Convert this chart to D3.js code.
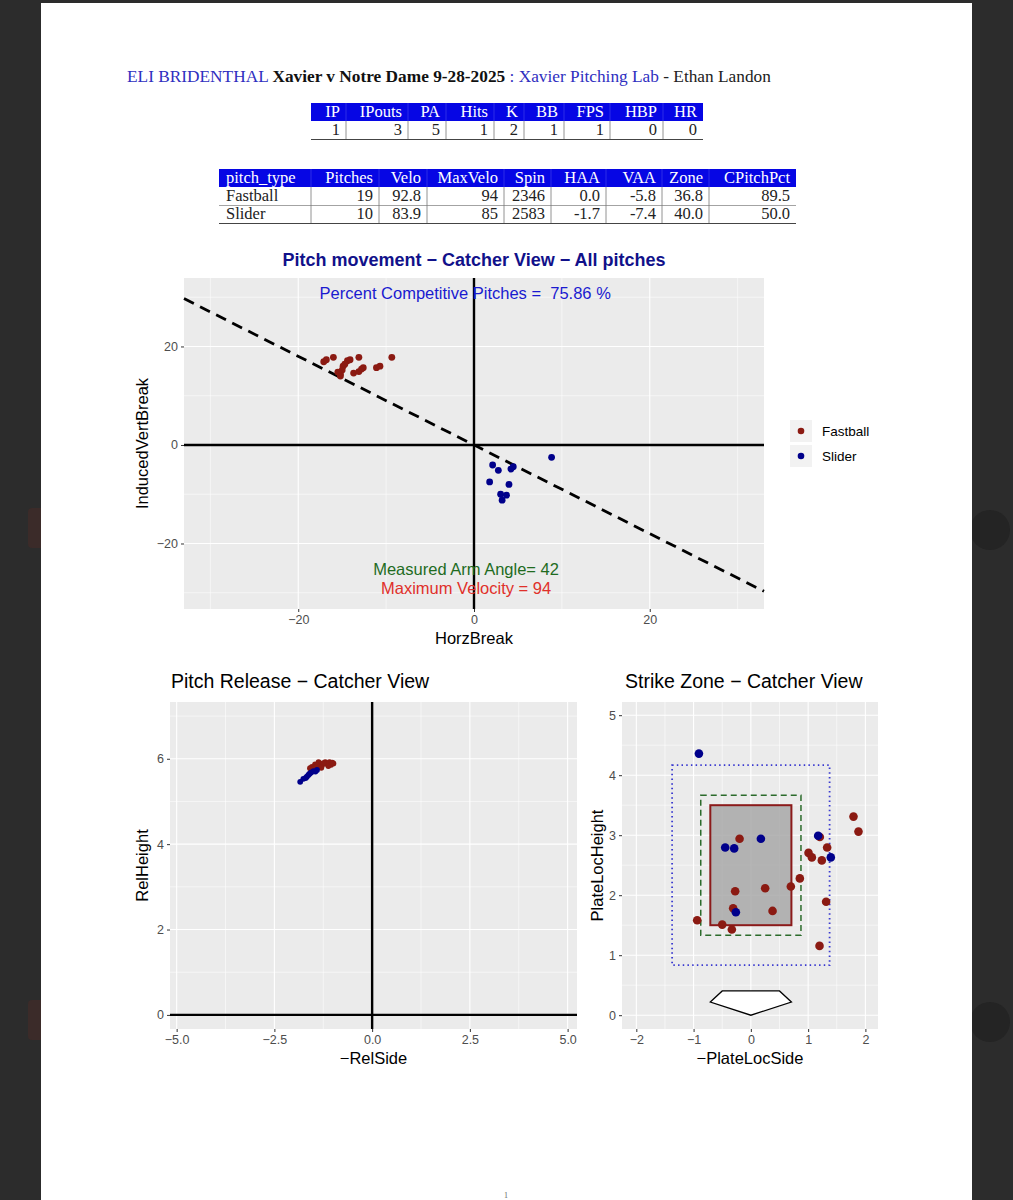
<!DOCTYPE html>
<html><head><meta charset="utf-8">
<script src="https://cdn.jsdelivr.net/npm/d3@7"></script>
<style>body{margin:0;background:#2c2c2c;overflow:hidden} svg{display:block}</style>
</head><body>
<svg id="c" width="1013" height="1200"></svg>
<script>
// ---------- DATA ----------
const statCols = ["IP","IPouts","PA","Hits","K","BB","FPS","HBP","HR"];
const statVals = ["1","3","5","1","2","1","1","0","0"];
const pitchCols = ["pitch_type","Pitches","Velo","MaxVelo","Spin","HAA","VAA","Zone","CPitchPct"];
const fastballRow = ["Fastball","19","92.8","94","2346","0.0","-5.8","36.8","89.5"];
const sliderRow = ["Slider","10","83.9","85","2583","-1.7","-7.4","40.0","50.0"];
const series = ["Fastball","Slider"];

const competitivePct = "75.86";
const armAngle = 42;
const maxVelo = 94;

// Pitch movement (HorzBreak, InducedVertBreak)
const fbMovX = [-17.1,-16.8,-16.0,-15.0,-15.2,-14.9,-14.4,-14.1,-13.1,-13.7,-13.1,-12.6,-12.8,-11.1,-10.7,-9.35,-15.2,-15.5,-14.7];
const fbMovY = [16.9,17.3,17.8,15.2,14.4,16.0,17.1,17.3,17.8,14.6,14.9,15.7,15.4,15.7,16.0,17.8,14.0,14.8,16.4];
const slMovX = [8.83,2.12,2.77,4.2,4.47,1.78,3.98,3.03,3.7,3.2];
const slMovY = [-2.5,-4.06,-5.14,-4.9,-4.4,-7.5,-8.0,-10.0,-10.2,-11.2];

// Release (-RelSide, RelHeight)
const fbRelX = [-1.46,-1.37,-1.20,-1.09,-0.99,-1.54,-1.59,-1.48,-1.33,-1.28,-1.15,-1.05,-1.40,-1.25,-1.52,-1.12,-1.30,-1.43,-1.02];
const fbRelY = [5.87,5.92,5.92,5.92,5.89,5.81,5.78,5.78,5.83,5.85,5.88,5.86,5.84,5.90,5.75,5.83,5.79,5.80,5.91];
const slRelX = [-1.84,-1.76,-1.67,-1.63,-1.56,-1.50,-1.41,-1.60,-1.70,-1.45];
const slRelY = [5.46,5.53,5.58,5.62,5.68,5.71,5.74,5.65,5.55,5.70];

// Plate location (-PlateLocSide, PlateLocHeight)
const fbLocX = [-0.197,1.204,1.792,1.879,1.332,1.007,1.065,1.239,0.855,0.698,0.25,-0.274,1.314,-0.309,0.379,-0.937,-0.5,-0.332,1.199];
const fbLocY = [2.94,2.97,3.31,3.06,2.795,2.705,2.63,2.58,2.28,2.145,2.117,2.067,1.89,1.783,1.738,1.583,1.51,1.428,1.155];
const slLocX = [-0.907,-0.448,-0.291,0.175,1.175,1.396,-0.262];
const slLocY = [4.36,2.795,2.78,2.94,2.99,2.63,1.717];

// Strike zone geometry [xmin,xmax,ymin,ymax]
const zoneBox = [-0.708,0.708,1.5,3.5];
const zoneInner = [-0.875,0.875,1.333,3.667];
const zoneOuter = [-1.375,1.375,0.833,4.167];
const plateX = [-0.708,-0.5,0.5,0.708,0];
const plateY = [0.22,0.405,0.405,0.22,0];

// Tick values
const movTicks = [-20,0,20];
const movMinor = [-30,-10,10,30];
const relXTicks = [-5,-2.5,0,2.5,5];
const relXMinor = [-3.75,-1.25,1.25,3.75];
const relYTicks = [0,2,4,6];
const relYMinor = [1,3,5,7];
const locXTicks = [-2,-1,0,1,2];
const locXMinor = [-1.5,-0.5,0.5,1.5];
const locYTicks = [0,1,2,3,4,5];
const locYMinor = [0.5,1.5,2.5,3.5,4.5];

// ---------- STYLE ----------
const RED = "#8B1A12", BLUE = "#00008B";
const SANS = "'Liberation Sans', Arial, sans-serif";
const SERIF = "'Liberation Serif', 'Times New Roman', serif";

const svg = d3.select("#c");
// page
svg.append("rect").attr("x",28).attr("y",508).attr("width",20).attr("height",40).attr("rx",4).attr("fill","#3b2b29");
svg.append("rect").attr("x",28).attr("y",1000).attr("width",20).attr("height",40).attr("rx",4).attr("fill","#3b2b29");
svg.append("circle").attr("cx",990).attr("cy",530).attr("r",20).attr("fill","#242424");
svg.append("circle").attr("cx",990).attr("cy",1022).attr("r",20).attr("fill","#242424");
svg.append("rect").attr("x",41).attr("y",3).attr("width",931).attr("height",1200).attr("fill","#fff");
svg.append("text").attr("x",506).attr("y",1198).attr("text-anchor","middle").attr("font-family",SERIF).attr("font-size",8).attr("fill","#666").text("1");

// ---------- HEADER ----------
const hdr = svg.append("text").attr("x",127).attr("y",82).attr("font-family",SERIF).attr("font-size",16);
hdr.append("tspan").attr("fill","#2f2fbf").text("ELI BRIDENTHAL ");
hdr.append("tspan").attr("fill","#111").attr("font-weight","bold").text("Xavier v Notre Dame 9-28-2025");
hdr.append("tspan").attr("fill","#2f2fbf").text(" : Xavier Pitching Lab");
hdr.append("tspan").attr("fill","#222").text(" - Ethan Landon");
const hl = hdr.node().getComputedTextLength();
hdr.attr("font-size", 16*644/hl);

// ---------- TABLES ----------
function drawTable(cols, rows, bounds, top, rowH, leftAlignFirst) {
  const g = svg.append("g").attr("font-family",SERIF).attr("font-size",16.5);
  const x0 = bounds[0], x1 = bounds[bounds.length-1];
  g.append("rect").attr("x",x0).attr("y",top).attr("width",x1-x0).attr("height",rowH).attr("fill","#0606E4");
  cols.forEach((c,i)=>{
    const left = leftAlignFirst && i===0;
    g.append("text").attr("x", left ? bounds[i]+7 : bounds[i+1]-6).attr("y",top+rowH-4)
      .attr("text-anchor", left ? "start":"end").attr("fill","#fff").text(c);
  });
  rows.forEach((r,ri)=>{
    const y = top + rowH*(ri+1);
    r.forEach((v,i)=>{
      const left = leftAlignFirst && i===0;
      g.append("text").attr("x", left ? bounds[i]+7 : bounds[i+1]-6).attr("y",y+rowH-4)
        .attr("text-anchor", left ? "start":"end").attr("fill","#222").text(v);
    });
    for (let i=1;i<bounds.length-1;i++)
      g.append("line").attr("x1",bounds[i]).attr("x2",bounds[i]).attr("y1",y).attr("y2",y+rowH).attr("stroke","#777").attr("stroke-width",0.8);
    g.append("line").attr("x1",x0).attr("x2",x1).attr("y1",y+rowH+0.5).attr("y2",y+rowH+0.5)
      .attr("stroke", ri===rows.length-1 ? "#444" : "#999").attr("stroke-width", ri===rows.length-1 ? 1.2 : 0.9);
  });
  for (let i=1;i<bounds.length-1;i++)
    g.append("line").attr("x1",bounds[i]).attr("x2",bounds[i]).attr("y1",top).attr("y2",top+rowH).attr("stroke","#fff").attr("stroke-opacity",0.2).attr("stroke-width",0.8);
}
drawTable(statCols,[statVals],[311,346,408,446,494,524,564,610,663,703],103,18,false);
drawTable(pitchCols,[fastballRow,sliderRow],[219,311,379,427,504,551,606,662,709,796],169,18,true);

// ---------- PANEL HELPER ----------
function panel(o){
  const g = svg.append("g");
  const xs = d3.scaleLinear().domain(o.xd).range([o.x0,o.x1]);
  const ys = d3.scaleLinear().domain(o.yd).range([o.y1,o.y0]);
  g.append("rect").attr("x",o.x0).attr("y",o.y0).attr("width",o.x1-o.x0).attr("height",o.y1-o.y0).attr("fill","#EBEBEB");
  const grid = g.append("g").attr("stroke","#fff");
  o.xMinor.forEach(v=>grid.append("line").attr("x1",xs(v)).attr("x2",xs(v)).attr("y1",o.y0).attr("y2",o.y1).attr("stroke-width",0.55));
  o.yMinor.forEach(v=>grid.append("line").attr("y1",ys(v)).attr("y2",ys(v)).attr("x1",o.x0).attr("x2",o.x1).attr("stroke-width",0.55));
  o.xMajor.forEach(v=>grid.append("line").attr("x1",xs(v)).attr("x2",xs(v)).attr("y1",o.y0).attr("y2",o.y1).attr("stroke-width",1.1));
  o.yMajor.forEach(v=>grid.append("line").attr("y1",ys(v)).attr("y2",ys(v)).attr("x1",o.x0).attr("x2",o.x1).attr("stroke-width",1.1));
  const ax = g.append("g").attr("transform",`translate(0,${o.y1})`)
    .call(d3.axisBottom(xs).tickValues(o.xMajor).tickSize(3).tickPadding(3).tickFormat(o.xFmt));
  const ay = g.append("g").attr("transform",`translate(${o.x0},0)`)
    .call(d3.axisLeft(ys).tickValues(o.yMajor).tickSize(3).tickPadding(3).tickFormat(o.yFmt));
  [ax,ay].forEach(a=>{
    a.select(".domain").remove();
    a.selectAll("line").attr("stroke","#333").attr("stroke-width",1);
    a.selectAll("text").attr("fill","#4D4D4D").attr("font-family",SANS).attr("font-size",12.5);
  });
  g.append("text").attr("x",(o.x0+o.x1)/2).attr("y",o.y1+35).attr("text-anchor","middle")
    .attr("font-family",SANS).attr("font-size",16.5).attr("fill","#000").text(o.xLab);
  g.append("text").attr("transform",`translate(${o.yLabX},${(o.y0+o.y1)/2}) rotate(-90)`).attr("text-anchor","middle")
    .attr("font-family",SANS).attr("font-size",16.5).attr("fill","#000").text(o.yLab);
  return {g,xs,ys};
}
function dots(p, xsArr, ysArr, color, r){
  p.g.append("g").selectAll("circle").data(xsArr.map((x,i)=>[x,ysArr[i]])).join("circle")
    .attr("cx",d=>p.xs(d[0])).attr("cy",d=>p.ys(d[1])).attr("r",r).attr("fill",color);
}

// ---------- PITCH MOVEMENT ----------
svg.append("text").attr("x",474).attr("y",266).attr("text-anchor","middle").attr("font-family",SANS)
  .attr("font-weight","bold").attr("font-size",18).attr("fill","#11118a").text("Pitch movement \u2212 Catcher View \u2212 All pitches");
const mv = panel({x0:184,x1:764,y0:278,y1:609,xd:[-33,33],yd:[-33.3,33.9],
  xMajor:movTicks,xMinor:movMinor,yMajor:movTicks,yMinor:movMinor,
  xFmt:d3.format("d"),yFmt:d3.format("d"),xLab:"HorzBreak",yLab:"InducedVertBreak",yLabX:148});
mv.g.append("line").attr("x1",mv.xs(0)).attr("x2",mv.xs(0)).attr("y1",278).attr("y2",609).attr("stroke","#000").attr("stroke-width",2.4);
mv.g.append("line").attr("y1",mv.ys(0)).attr("y2",mv.ys(0)).attr("x1",184).attr("x2",764).attr("stroke","#000").attr("stroke-width",2.4);
const slope = Math.tan(armAngle*Math.PI/180);
mv.g.append("line").attr("x1",mv.xs(-33)).attr("y1",mv.ys(33*slope)).attr("x2",mv.xs(33)).attr("y2",mv.ys(-33*slope))
  .attr("stroke","#000").attr("stroke-width",2.8).attr("stroke-dasharray","11,7");
dots(mv, fbMovX, fbMovY, RED, 3.4);
dots(mv, slMovX, slMovY, BLUE, 3.4);
mv.g.append("text").attr("x",mv.xs(-1)).attr("y",mv.ys(30.7)+5.5).attr("text-anchor","middle").attr("font-family",SANS)
  .attr("font-size",16.5).attr("fill","#1a1ad0").text(`Percent Competitive Pitches =\u00A0\u00A075.86 %`.replace("75.86",competitivePct));
mv.g.append("text").attr("x",mv.xs(-0.9)).attr("y",mv.ys(-25.2)+5.5).attr("text-anchor","middle").attr("font-family",SANS)
  .attr("font-size",16.5).attr("fill","#1f6b1f").text(`Measured Arm Angle= ${armAngle}`);
mv.g.append("text").attr("x",mv.xs(-0.9)).attr("y",mv.ys(-29.2)+5.5).attr("text-anchor","middle").attr("font-family",SANS)
  .attr("font-size",16.5).attr("fill","#e0302a").text(`Maximum Velocity = ${maxVelo}`);

// legend
const lg = svg.append("g");
series.forEach((s,i)=>{
  const cy = 431 + i*25;
  lg.append("rect").attr("x",790).attr("y",cy-11).attr("width",22).attr("height",22).attr("fill","#F2F2F2");
  lg.append("circle").attr("cx",801).attr("cy",cy).attr("r",3.3).attr("fill",i===0?RED:BLUE);
  lg.append("text").attr("x",822).attr("y",cy+4.8).attr("font-family",SANS).attr("font-size",13.5).attr("fill","#000").text(s);
});

// ---------- RELEASE ----------
svg.append("text").attr("x",171).attr("y",688).attr("font-family",SANS).attr("font-size",19.5).attr("fill","#000").text("Pitch Release \u2212 Catcher View");
const rl = panel({x0:170,x1:577,y0:702,y1:1029,xd:[-5.17,5.24],yd:[-0.33,7.33],
  xMajor:relXTicks,xMinor:relXMinor,yMajor:relYTicks,yMinor:relYMinor,
  xFmt:d3.format(".1f"),yFmt:d3.format("d"),xLab:"\u2212RelSide",yLab:"RelHeight",yLabX:148});
rl.g.append("line").attr("x1",rl.xs(0)).attr("x2",rl.xs(0)).attr("y1",702).attr("y2",1029).attr("stroke","#000").attr("stroke-width",2.4);
rl.g.append("line").attr("y1",rl.ys(0)).attr("y2",rl.ys(0)).attr("x1",170).attr("x2",577).attr("stroke","#000").attr("stroke-width",2.4);
dots(rl, fbRelX, fbRelY, RED, 2.9);
dots(rl, slRelX, slRelY, BLUE, 2.9);

// ---------- STRIKE ZONE ----------
svg.append("text").attr("x",625).attr("y",688).attr("font-family",SANS).attr("font-size",19.5).attr("fill","#000").text("Strike Zone \u2212 Catcher View");
const sz = panel({x0:622,x1:878,y0:702,y1:1029,xd:[-2.25,2.22],yd:[-0.23,5.22],
  xMajor:locXTicks,xMinor:locXMinor,yMajor:locYTicks,yMinor:locYMinor,
  xFmt:d3.format("d"),yFmt:d3.format("d"),xLab:"\u2212PlateLocSide",yLab:"PlateLocHeight",yLabX:603});
function box(b){ return {x:sz.xs(b[0]), y:sz.ys(b[3]), w:sz.xs(b[1])-sz.xs(b[0]), h:sz.ys(b[2])-sz.ys(b[3])}; }
const zb = box(zoneBox), zi = box(zoneInner), zo = box(zoneOuter);
sz.g.append("rect").attr("x",zb.x).attr("y",zb.y).attr("width",zb.w).attr("height",zb.h).attr("fill","#A8A8A8").attr("fill-opacity",0.85)
  .attr("stroke","#8B1A1A").attr("stroke-width",2);
sz.g.append("rect").attr("x",zi.x).attr("y",zi.y).attr("width",zi.w).attr("height",zi.h).attr("fill","none")
  .attr("stroke","#2b6b2b").attr("stroke-width",1.5).attr("stroke-dasharray","6,4");
sz.g.append("rect").attr("x",zo.x).attr("y",zo.y).attr("width",zo.w).attr("height",zo.h).attr("fill","none")
  .attr("stroke","#3a3ad0").attr("stroke-width",1.8).attr("stroke-dasharray","1.5,3.2");
sz.g.append("polygon").attr("points",plateX.map((x,i)=>`${sz.xs(x)},${sz.ys(plateY[i])}`).join(" "))
  .attr("fill","#fff").attr("stroke","#000").attr("stroke-width",1.3);
dots(sz, fbLocX, fbLocY, RED, 4.3);
dots(sz, slLocX, slLocY, BLUE, 4.3);
</script>
</body></html>
